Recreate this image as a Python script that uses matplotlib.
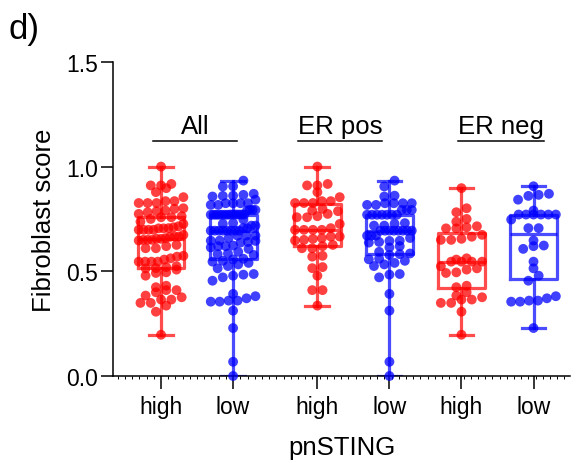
import numpy as np
import matplotlib.pyplot as plt
from matplotlib.ticker import FixedLocator

plt.rcParams['font.family'] = ['Liberation Sans', 'DejaVu Sans']

# fibroblast scores per pnSTING group, split by ER status
er_pos_high = [1.00, 0.91, 0.91, 0.917, 0.878, 0.854,
               0.826, 0.826, 0.835, 0.826, 0.835,
               0.798, 0.787, 0.79, 0.774, 0.758, 0.758, 0.763,
               0.726, 0.698, 0.698, 0.698, 0.698, 0.706,
               0.658, 0.666, 0.647, 0.655, 0.666, 0.65,
               0.626, 0.61, 0.61, 0.62, 0.57, 0.574,
               0.515, 0.52, 0.479, 0.41, 0.41, 0.336]
er_pos_low = [0.933, 0.905, 0.857, 0.861,
              0.825, 0.817, 0.825, 0.817, 0.825, 0.825,
              0.793, 0.793, 0.793,
              0.77, 0.77, 0.77, 0.77, 0.77, 0.77, 0.77,
              0.727, 0.73, 0.718, 0.718,
              0.694, 0.694, 0.694, 0.694, 0.694, 0.694, 0.694, 0.694,
              0.67, 0.659, 0.67, 0.67, 0.646, 0.645, 0.637, 0.64,
              0.62, 0.614, 0.593, 0.578, 0.585, 0.582,
              0.55, 0.56, 0.557, 0.525, 0.533, 0.54,
              0.484, 0.471, 0.487, 0.392, 0.312, 0.068, 0.0]
er_neg_high = [0.897, 0.801, 0.782, 0.75, 0.737, 0.71, 0.715, 0.705, 0.705,
               0.674, 0.65, 0.65, 0.655, 0.665,
               0.562, 0.546, 0.546, 0.546, 0.546, 0.556,
               0.524, 0.508, 0.492, 0.495, 0.514,
               0.424, 0.431, 0.4, 0.365, 0.376, 0.365, 0.384, 0.349,
               0.349, 0.307, 0.197]
er_neg_low = [0.906, 0.865, 0.842, 0.87, 0.86, 0.79,
              0.771, 0.771, 0.771, 0.771, 0.771, 0.771,
              0.747, 0.706, 0.706, 0.647, 0.607, 0.62, 0.623,
              0.546, 0.514, 0.479, 0.455,
              0.381, 0.355, 0.371, 0.355, 0.36, 0.36, 0.229]

all_high = er_pos_high + er_neg_high
all_low = er_pos_low + er_neg_low

groups = [all_high, all_low, er_pos_high, er_pos_low, er_neg_high, er_neg_low]
tick_labels = ['high', 'low', 'high', 'low', 'high', 'low']
subsets = ['All', 'ER pos', 'ER neg']

positions = [1, 2, 3.17, 4.17, 5.17, 6.17]
bracket_spans = [(0.89, 2.06), (2.9, 4.07), (5.12, 6.31)]
colors = ['#ff0000', '#0000ff'] * 3


def swarm_offsets(vals, bin_h=0.032, step=0.143, max_width=0.62):
    vals = np.asarray(vals, dtype=float)
    order = np.argsort(vals, kind='stable')
    rows, cur = [], [order[0]]
    start = vals[order[0]]
    for i in order[1:]:
        if vals[i] - start < bin_h:
            cur.append(i)
        else:
            rows.append(cur)
            cur = [i]
            start = vals[i]
    rows.append(cur)
    offs = np.zeros(len(vals))
    for r in rows:
        n = len(r)
        s = step if (n - 1) * step <= max_width else max_width / (n - 1)
        for k, idx in enumerate(r):
            offs[idx] = (k - (n - 1) / 2) * s
    return offs


fig = plt.figure(figsize=(5.81, 4.64), dpi=100)
ax = fig.add_axes([0.1945, 0.1875, 0.787, 0.677])

for vals, pos, c in zip(groups, positions, colors):
    line = dict(color=c, lw=2.3, alpha=0.7)
    ax.boxplot([vals], positions=[pos], widths=0.65, whis=(0, 100),
               showfliers=False, capwidths=[0.33],
               boxprops=line, whiskerprops=line, capprops=line,
               medianprops=line)
    x = pos + swarm_offsets(vals)
    ax.scatter(x, vals, s=50, color=c, alpha=0.75, edgecolors='none',
               zorder=3, clip_on=False)

# subset brackets above each pair
for (x0, x1), name in zip(bracket_spans, subsets):
    ax.plot([x0, x1], [1.123, 1.123], color='black', lw=1.1, clip_on=False)
    ax.text((x0 + x1) / 2, 1.16, name, ha='center', va='baseline',
            fontsize=18.5)

ax.set_xlim(0.333, 6.68)
ax.set_ylim(0, 1.5)
ax.set_xticks(positions, tick_labels)
ax.xaxis.set_minor_locator(FixedLocator(np.arange(0.4, 6.68, 0.1)))
ax.set_yticks([0, 0.5, 1.0, 1.5], ['0.0', '0.5', '1.0', '1.5'])
ax.tick_params(axis='x', which='major', length=9, width=1.1,
               labelsize=16.5, pad=5)
ax.tick_params(axis='x', which='minor', length=2.5, width=0.7)
ax.tick_params(axis='y', length=9, width=1.1, labelsize=16.5, pad=2)
for side in ['top', 'right']:
    ax.spines[side].set_visible(False)
for side in ['left', 'bottom']:
    ax.spines[side].set_linewidth(1.1)

ax.set_xlabel('pnSTING', fontsize=18.5, labelpad=12)
ax.set_ylabel('Fibroblast score', fontsize=18.5, labelpad=7)

fig.text(0.015, 0.915, 'd)', fontsize=25)

fig.savefig('out.png', dpi=100)
